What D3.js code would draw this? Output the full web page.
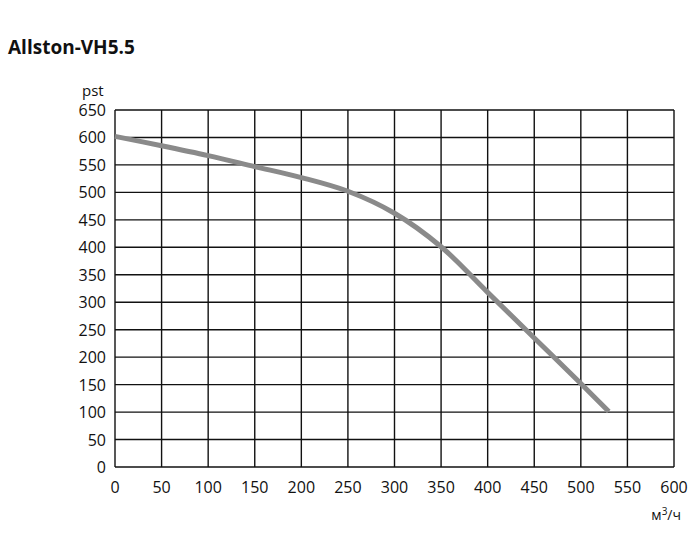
<!DOCTYPE html>
<html><head><meta charset="utf-8">
<script src="https://cdn.jsdelivr.net/npm/d3@7"></script>
<style>body{margin:0;background:#fff;} text{font-family:"Open Sans","Noto Sans",sans-serif;}</style>
</head><body>
<svg id="c" width="700" height="560"></svg>
<script>
const title = "Allston-VH5.5";
const xTicks = [0,50,100,150,200,250,300,350,400,450,500,550,600];
const yTicks = [0,50,100,150,200,250,300,350,400,450,500,550,600,650];
const flow = [0,50,100,150,200,250,300,350,400,450,500,530];
const pressure = [602,585,567,547,527,502,462,401,318,235,152,101];

const svg = d3.select("#c");
const x = d3.scaleLinear().domain([0,600]).range([115,674]);
const y = d3.scaleLinear().domain([0,650]).range([467,110]);

svg.append("text").attr("x",8).attr("y",54).attr("font-size",19).attr("font-weight",700)
  .attr("fill","#111").text(title);

const g = svg.append("g");
g.selectAll(".vx").data(xTicks).join("line")
  .attr("x1",d=>x(d)).attr("x2",d=>x(d)).attr("y1",y(0)).attr("y2",y(650))
  .attr("stroke","#111").attr("stroke-width",1.4);
g.selectAll(".hy").data(yTicks).join("line")
  .attr("x1",x(0)).attr("x2",x(600)).attr("y1",d=>y(d)).attr("y2",d=>y(d))
  .attr("stroke","#111").attr("stroke-width",1.4);

svg.selectAll(".xl").data(xTicks).join("text")
  .attr("x",d=>x(d)).attr("y",493).attr("text-anchor","middle")
  .attr("font-size",16).attr("fill","#111").text(d=>d);
svg.selectAll(".yl").data(yTicks).join("text")
  .attr("x",106).attr("y",d=>y(d)+6).attr("text-anchor","end")
  .attr("font-size",16).attr("fill","#111").text(d=>d);

svg.append("text").attr("x",82).attr("y",96).attr("font-size",15).attr("fill","#111").text("pst");
svg.append("text").attr("x",681).attr("y",520).attr("text-anchor","end").attr("font-size",14).attr("fill","#111")
  .html('м<tspan dy="-5" font-size="10">3</tspan><tspan dy="5">/ч</tspan>');

const pts = flow.map((f,i)=>[f,pressure[i]]);
svg.append("path").datum(pts)
  .attr("d", d3.line().x(d=>x(d[0])).y(d=>y(d[1])).curve(d3.curveCatmullRom.alpha(0.5)))
  .attr("fill","none").attr("stroke","#8a8a8a").attr("stroke-width",5).attr("stroke-linecap","butt");
</script>
</body></html>
